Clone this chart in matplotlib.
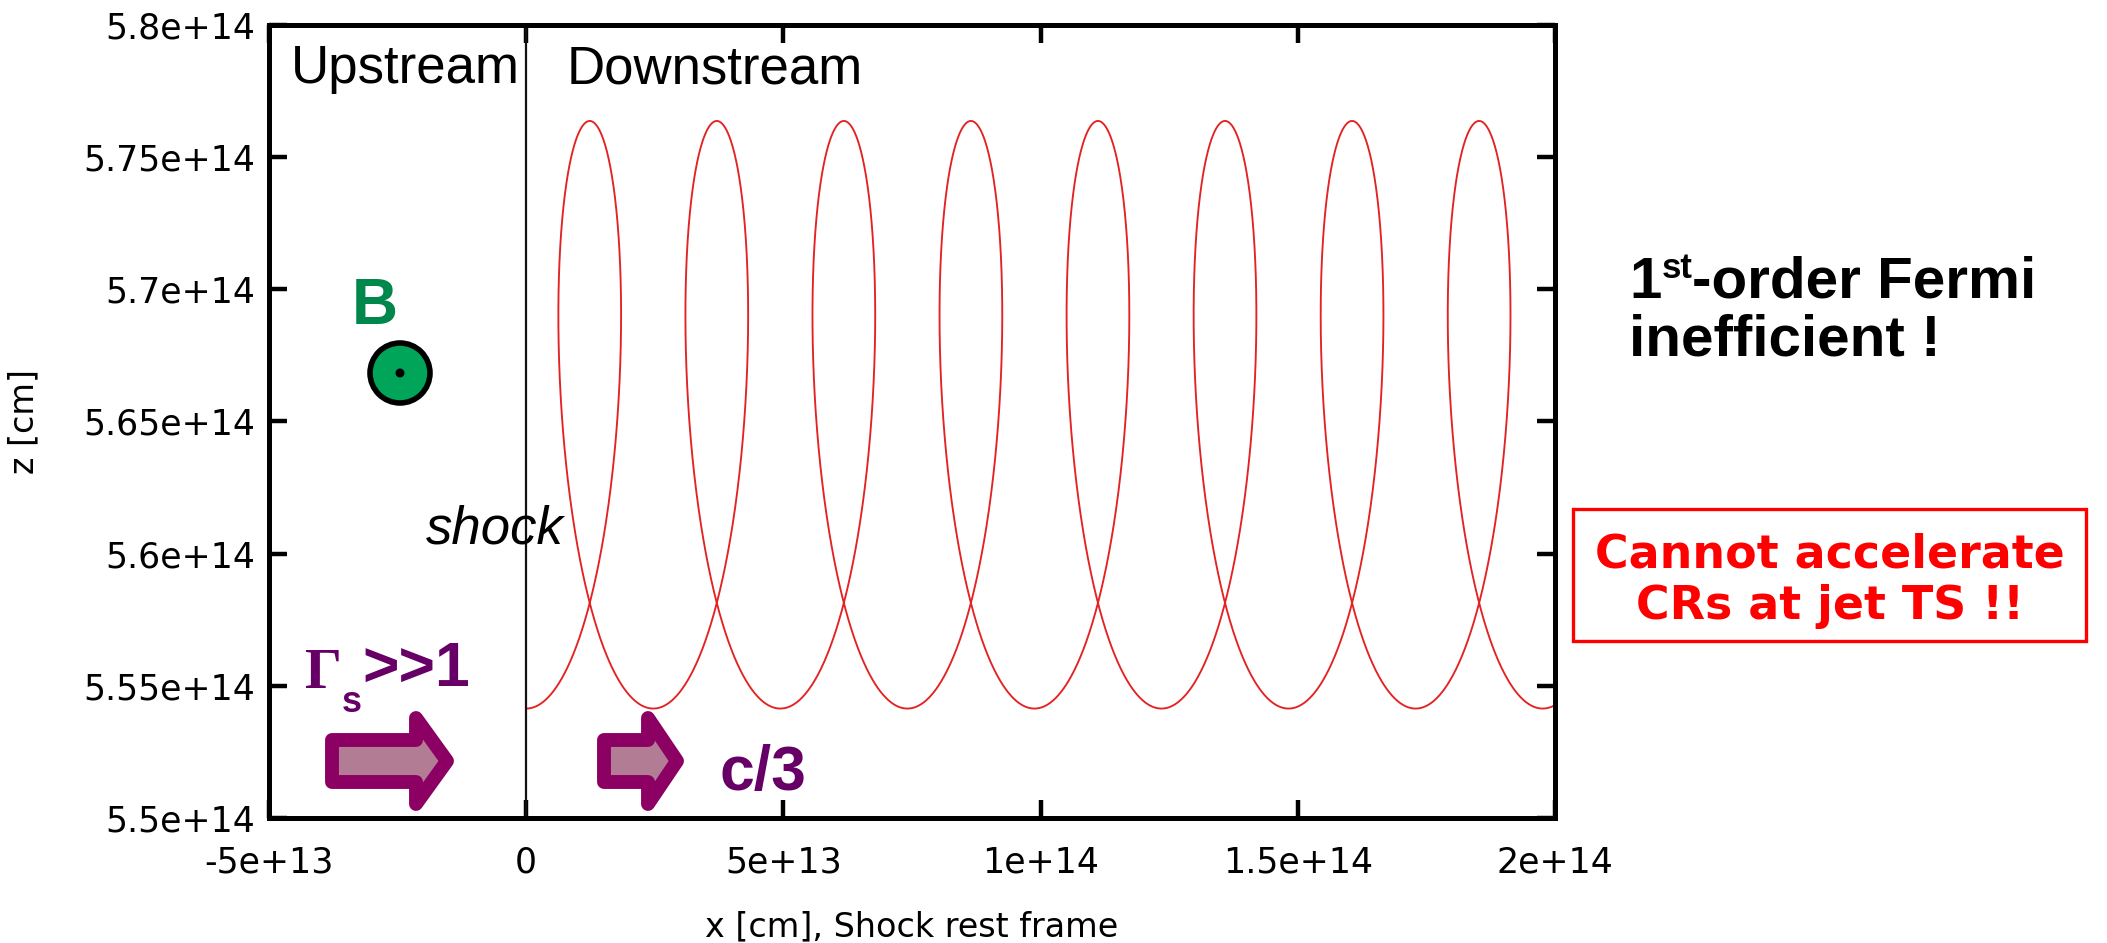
import numpy as np
import matplotlib
matplotlib.use("Agg")
import matplotlib.pyplot as plt
from matplotlib.patches import Polygon, Circle, Rectangle

W, H = 2107, 943

# axis ticks / labels
x_ticks = [-5e13, 0, 5e13, 1e14, 1.5e14, 2e14]
x_labels = ["-5e+13", "0", "5e+13", "1e+14", "1.5e+14", "2e+14"]
z_ticks = [5.5e14, 5.55e14, 5.6e14, 5.65e14, 5.7e14, 5.75e14, 5.8e14]
z_labels = ["5.5e+14", "5.55e+14", "5.6e+14", "5.65e+14", "5.7e+14", "5.75e+14", "5.8e+14"]

# gyration of the particle downstream
z_top = 5.7637e14        # top of the loops
z_bottom = 5.5414e14     # bottom of the arcs
drift_per_turn = 2.47e13 # distance between two loops
gyro_x_amp = 1.16e13     # horizontal half-size of the gyration
n_turns = 8.2
shock_x = 0.0

z_guide = (z_top + z_bottom) / 2
gyro_z_amp = (z_top - z_bottom) / 2
theta = np.linspace(0, 2 * np.pi * n_turns, 6000)
traj_x = shock_x + drift_per_turn * theta / (2 * np.pi) + gyro_x_amp * np.sin(theta)
traj_z = z_guide - gyro_z_amp * np.cos(theta)

fig = plt.figure(figsize=(W / 100, H / 100), dpi=100)
ax = fig.add_axes([269 / W, 1 - 818 / H, (1555 - 269) / W, (818 - 25) / H])

ax.plot(traj_x, traj_z, color="#e32222", lw=1.35)
ax.axvline(shock_x, color="#111111", lw=1.6)

ax.set_xlim(-5e13, 2e14)
ax.set_ylim(5.5e14, 5.8e14)
ax.set_xticks(x_ticks)
ax.set_xticklabels(x_labels)
ax.set_yticks(z_ticks)
ax.set_yticklabels(z_labels)
ax.tick_params(direction="in", length=13, width=3.2, top=True, right=True,
               labelsize=25, pad=10)
ax.tick_params(axis="x", pad=20)
for s in ax.spines.values():
    s.set_linewidth(3.6)
ax.set_xlabel("x [cm], Shock rest frame", fontsize=24)
ax.xaxis.set_label_coords(0.5, -0.117)
ax.set_ylabel("z [cm]", fontsize=24)
ax.yaxis.set_label_coords(-0.178, 0.5)

# overlay in pixel coordinates for the annotations
ov = fig.add_axes([0, 0, 1, 1])
ov.set_xlim(0, W)
ov.set_ylim(H, 0)
ov.axis("off")

sans = "Liberation Sans"
purple = "#660066"

ov.text(291, 83, "Upstream", fontsize=38, family=sans, va="baseline")
ov.text(567, 83, "Downstream", fontsize=38, family=sans, va="baseline")
ov.text(426, 544, "shock", fontsize=38, family=sans, style="italic", va="baseline")

# B field out of the page
ov.text(352, 324, "B", fontsize=46, family=sans, weight="bold", color="#00874b", va="baseline")
ov.add_patch(Circle((400, 373), 30, facecolor="#00a55a", edgecolor="black", lw=4))
ov.add_patch(Circle((400, 373), 4.5, facecolor="black", edgecolor="none"))

fig.canvas.draw()
rend = fig.canvas.get_renderer()


def chain(x, y, pieces):
    for txt, kw in pieces:
        dy = kw.pop("dy", 0)
        t = ov.text(x, y + dy, txt, va="baseline", **kw)
        x = t.get_window_extent(rend).x1
    return x


chain(305, 688, [("Γ", dict(fontsize=42, family="Liberation Serif", weight="bold", color=purple)),
                 ("s", dict(fontsize=26, family=sans, weight="bold", color=purple, dy=24)),
                 (">>1", dict(fontsize=45, family=sans, weight="bold", color=purple, dy=-2))])
ov.text(720, 790, "c/3", fontsize=45, family=sans, weight="bold", color=purple, va="baseline")


def block_arrow(x0, x1, head_x, yc, shaft_h, head_h):
    pts = [(x0, yc - shaft_h / 2), (head_x, yc - shaft_h / 2), (head_x, yc - head_h / 2),
           (x1, yc), (head_x, yc + head_h / 2), (head_x, yc + shaft_h / 2),
           (x0, yc + shaft_h / 2)]
    ov.add_patch(Polygon(pts, closed=True, facecolor="#b27d94", edgecolor="#8c0064",
                         lw=10, joinstyle="round"))


block_arrow(332, 447, 416, 761, 42, 86)
block_arrow(604, 677, 648, 761, 42, 86)

# right-hand comments
chain(1629, 298, [("1", dict(fontsize=42, family=sans, weight="bold")),
                  ("st", dict(fontsize=25, family=sans, weight="bold", dy=-20)),
                  ("-order Fermi", dict(fontsize=42, family=sans, weight="bold"))])
ov.text(1629, 355, "inefficient !", fontsize=42, family=sans, weight="bold", va="baseline")

ov.add_patch(Rectangle((1573, 509), 513, 132, facecolor="none", edgecolor="#ff0000", lw=2.4))
ov.text(1830, 567, "Cannot accelerate", fontsize=33, family="DejaVu Sans", weight="bold",
        color="#ff0000", ha="center", va="baseline")
ov.text(1830, 619, "CRs at jet TS !!", fontsize=33, family="DejaVu Sans", weight="bold",
        color="#ff0000", ha="center", va="baseline")

fig.savefig("out.png", dpi=100)
